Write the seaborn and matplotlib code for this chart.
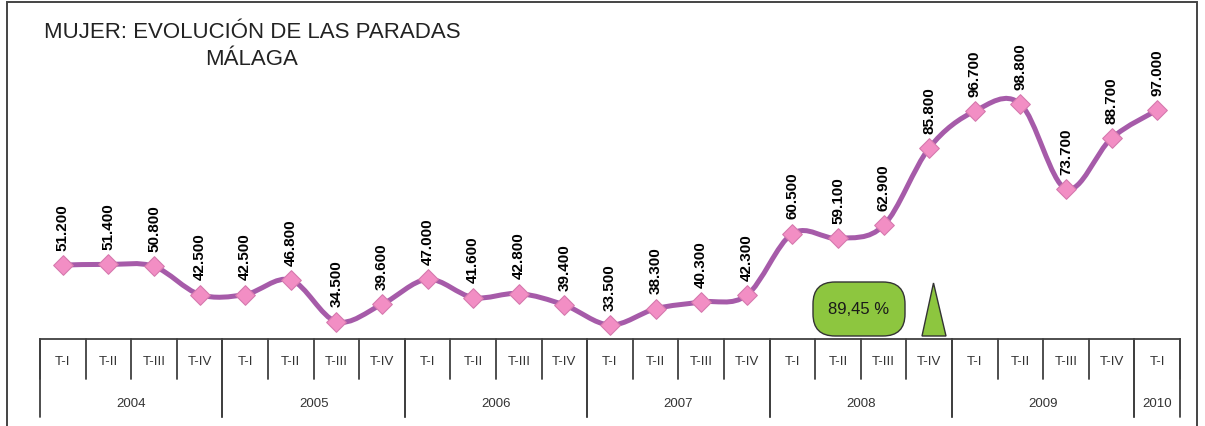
import numpy as np
import pandas as pd
import matplotlib
matplotlib.use("Agg")
import matplotlib.pyplot as plt
import seaborn as sns
from matplotlib.path import Path
from matplotlib.patches import PathPatch, FancyBboxPatch, Polygon, Rectangle

# data
quarters = ["T-I", "T-II", "T-III", "T-IV"] * 6 + ["T-I"]
years = ["2004", "2005", "2006", "2007", "2008", "2009", "2010"]
year_sizes = [4, 4, 4, 4, 4, 4, 1]
paradas = [51200, 51400, 50800, 42500, 42500, 46800, 34500, 39600,
           47000, 41600, 42800, 39400, 33500, 38300, 40300, 42300,
           60500, 59100, 62900, 85800, 96700, 98800, 73700, 88700, 97000]
variacion = "89,45 %"

df = pd.DataFrame({"pos": np.arange(len(paradas)), "paradas": paradas})

sns.set_theme(style="white")
plt.rcParams["font.family"] = ["Liberation Sans", "DejaVu Sans"]

line_col = "#A65BA9"
marker_col = "#F28EC4"
grid_col = "#404040"

fig = plt.figure(figsize=(12.05, 4.27), dpi=100)
ax = fig.add_axes([40 / 1205, 87 / 427, 1140 / 1205, 320 / 427])

# smoothed line (catmull-rom as bezier segments)
x = df["pos"].to_numpy(float)
y = df["paradas"].to_numpy(float)
n = len(x)
verts = [(x[0], y[0])]
codes = [Path.MOVETO]
for i in range(n - 1):
    p0 = np.array([x[max(i - 1, 0)], y[max(i - 1, 0)]])
    p1 = np.array([x[i], y[i]])
    p2 = np.array([x[i + 1], y[i + 1]])
    p3 = np.array([x[min(i + 2, n - 1)], y[min(i + 2, n - 1)]])
    c1 = p1 + (p2 - p0) / 6
    c2 = p2 - (p3 - p1) / 6
    verts += [tuple(c1), tuple(c2), tuple(p2)]
    codes += [Path.CURVE4] * 3
ax.add_patch(PathPatch(Path(verts, codes), fill=False, color=line_col,
                       lw=3.6, zorder=2, capstyle="round", joinstyle="round"))

sns.scatterplot(data=df, x="pos", y="paradas", marker="D", s=100,
                color=marker_col, edgecolor="#D67AAE", linewidth=0.8,
                zorder=3, ax=ax, legend=False)

for xi, yi in zip(x, y):
    ax.annotate(f"{int(yi):,}".replace(",", "."), (xi, yi),
                xytext=(0, 11), textcoords="offset points",
                rotation=90, ha="center", va="bottom",
                fontsize=11, fontweight="bold", color="black")

ax.set_xlim(-0.5, n - 0.5)
ax.set_ylim(29360, 123900)
ax.set_xticks([])
ax.set_yticks([])
ax.set_xlabel("")
ax.set_ylabel("")
for s in ["top", "right", "left"]:
    ax.spines[s].set_visible(False)
ax.spines["bottom"].set_color(grid_col)
ax.spines["bottom"].set_linewidth(1.3)

# category table under the axis
tr = ax.get_xaxis_transform()
for k in range(n + 1):
    ax.plot([k - 0.5, k - 0.5], [0, -0.125], transform=tr, color=grid_col,
            lw=1.3, clip_on=False)
for k, q in enumerate(quarters):
    ax.text(k, -0.068, q, transform=tr, ha="center", va="center",
            fontsize=9.5, color="#333333")
start = 0
for yr, size in zip(years, year_sizes):
    for b in (start - 0.5, start + size - 0.5):
        ax.plot([b, b], [0, -0.245], transform=tr, color=grid_col,
                lw=1.3, clip_on=False)
    ax.text(start + (size - 1) / 2, -0.2, yr, transform=tr, ha="center",
            va="center", fontsize=9.5, color="#333333")
    start += size

# title
fig.text(252 / 1205, 1 - 33 / 427, "MUJER: EVOLUCIÓN DE LAS PARADAS",
         ha="center", va="center", fontsize=16, color="#222222")
fig.text(252 / 1205, 1 - 60 / 427, "MÁLAGA",
         ha="center", va="center", fontsize=16, color="#222222")

# green badge and triangle
inch = fig.dpi_scale_trans
fig.add_artist(FancyBboxPatch((8.13, 0.90), 0.92, 0.54,
                              boxstyle="round,pad=0,rounding_size=0.22",
                              transform=inch, facecolor="#8DC63F",
                              edgecolor="#333333", lw=1.0))
fig.text(8.59 / 12.05, 1.17 / 4.27, variacion, ha="center", va="center",
         fontsize=12, color="#1a1a1a")
fig.add_artist(Polygon([(9.22, 0.90), (9.46, 0.90), (9.335, 1.43)],
                       closed=True, transform=inch, facecolor="#8DC63F",
                       edgecolor="#333333", lw=1.0))

# outer frame
fig.add_artist(Rectangle((0.07, -0.2), 11.90, 4.44, transform=inch,
                         fill=False, edgecolor="#444444", lw=1.4))

fig.savefig("out.png", dpi=100, facecolor="white")
